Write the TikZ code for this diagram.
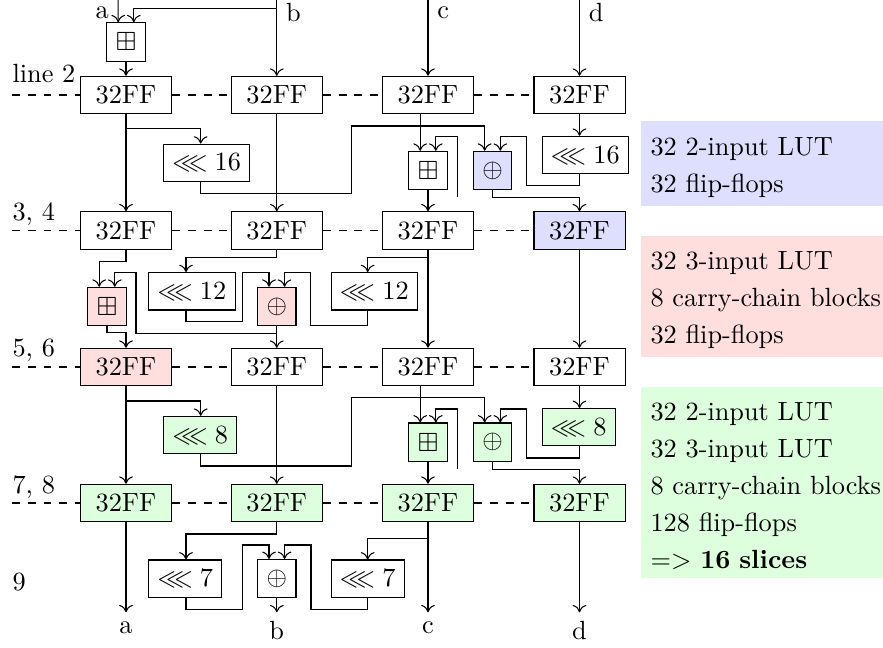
\documentclass[tikz,border=0pt]{standalone}
\usepackage{amssymb}
\usetikzlibrary{calc,arrows.meta}
\definecolor{lutblue}{RGB}{222,222,255}
\definecolor{lutred}{RGB}{255,222,222}
\definecolor{lutgreen}{RGB}{222,255,222}
\begin{document}
\begin{tikzpicture}[x=0.38pt,y=-0.38pt,>={To[length=2.8pt,width=5.2pt]},
  ff/.style={draw, minimum width=34.6pt, minimum height=14.2pt, inner sep=0pt},
  op/.style={draw, minimum size=14.6pt, inner sep=0pt},
  rot/.style={draw, anchor=west, minimum height=14.2pt, inner xsep=3.33pt, inner ysep=0pt},
  lane/.style={dashed},
  stage/.style={anchor=base west, inner sep=0pt},
  legend/.style={anchor=north west, text width=88pt, align=left, inner xsep=3.8pt,
    inner ysep=3.2pt, font=\fontsize{10pt}{14pt}\selectfont}
]
\useasboundingbox (0,0) rectangle (883,648);

% ---------- register rows ----------
\node[ff] (ffA1) at (126,95) {32FF};
\node[ff] (ffB1) at (276.8,95) {32FF};
\node[ff] (ffC1) at (428,95) {32FF};
\node[ff] (ffD1) at (579.5,95) {32FF};

\node[ff] (ffA2) at (126,230.5) {32FF};
\node[ff] (ffB2) at (276.8,230.5) {32FF};
\node[ff] (ffC2) at (428,230.5) {32FF};
\node[ff, fill=lutblue] (ffD2) at (579.5,230.5) {32FF};

\node[ff, fill=lutred] (ffA3) at (126,367) {32FF};
\node[ff] (ffB3) at (276.8,367) {32FF};
\node[ff] (ffC3) at (428,367) {32FF};
\node[ff] (ffD3) at (579.5,367) {32FF};

\node[ff, fill=lutgreen] (ffA4) at (126,503) {32FF};
\node[ff, fill=lutgreen] (ffB4) at (276.8,503) {32FF};
\node[ff, fill=lutgreen] (ffC4) at (428,503) {32FF};
\node[ff, fill=lutgreen] (ffD4) at (579.5,503) {32FF};

% pipeline stage lines
\coordinate (s1) at (12,95);
\coordinate (s2) at (12,230.5);
\coordinate (s3) at (12,367);
\coordinate (s4) at (12,503);
\foreach \r in {1,2,3,4}{
  \draw[lane] (s\r) -- (ffA\r.west) (ffA\r.east) -- (ffB\r.west)
    (ffB\r.east) -- (ffC\r.west) (ffC\r.east) -- (ffD\r.west);
}
\node[stage] (st1) at (12,82.3) {line 2};
\node[stage] (st2) at (12,221) {3, 4};
\node[stage] (st3) at (12,357) {5, 6};
\node[stage] (st4) at (12,493.3) {7, 8};
\node[stage] (st5) at (12,590) {9};

% ---------- adders / xors ----------
\node[op] (opTop) at (126,42) {$\boxplus$};
\node[op] (opC1) at (428,170.5) {$\boxplus$};
\node[op, fill=lutblue] (opD1) at (492.5,170.5) {$\oplus$};
\node[op, fill=lutred] (opA2) at (107,306.5) {$\boxplus$};
\node[op, fill=lutred] (opB2) at (276.8,306.5) {$\oplus$};
\node[op, fill=lutgreen] (opC3) at (428,442.2) {$\boxplus$};
\node[op, fill=lutgreen] (opD3) at (492.5,442.2) {$\oplus$};
\node[op] (opB4) at (276.8,578.7) {$\oplus$};

\foreach \o in {opTop,opC1,opD1,opA2,opB2,opC3,opD3,opB4}{
  \coordinate (\o-i1) at ($(\o.north)+(-7.8,0)$);
  \coordinate (\o-i2) at ($(\o.north)+(7.8,0)$);
}

% ---------- rotations ----------
\node[rot] (shA1) at (163,162.8) {$\lll 16$};
\node[rot] (shD1) at (541.7,155) {$\lll 16$};
\node[rot] (shB2) at (148.3,291.3) {$\lll 12$};
\node[rot] (shC2) at (330.7,291.3) {$\lll 12$};
\node[rot, fill=lutgreen] (shA3) at (163.3,435) {$\lll 8$};
\node[rot, fill=lutgreen] (shD3) at (541.7,427.2) {$\lll 8$};
\node[rot] (shB4) at (148.3,578.7) {$\lll 7$};
\node[rot] (shC4) at (330.7,578.7) {$\lll 7$};

\coordinate (xA) at (200.7,0);
\coordinate (xB) at (186,0);
\coordinate (xC) at (367.7,0);

% ---------- inputs ----------
\coordinate (inA) at (118.2,0);
\coordinate (inB) at (276.8,0);
\coordinate (inC) at (428,0);
\coordinate (inD) at (579.5,0);
\node[anchor=east] (la) at (118.2,12.5) {a};
\node[anchor=west] (lb) at (276.8,12.5) {b};
\node[anchor=west] (lc) at (428,12.5) {c};
\node[anchor=west] (ld) at (579.5,12.5) {d};
\coordinate (jB0) at (276.8,8.3);

\draw[->] (inA) -- (opTop-i1);
\draw[->] (jB0) -| (opTop-i2);
\draw[->] (inB) -- (ffB1.north);
\draw[->] (inC) -- (ffC1.north);
\draw[->] (inD) -- (ffD1.north);
\draw[->] (opTop) -- (ffA1);

% ---------- line 2 -> 3, 4 ----------
\coordinate (jA1) at (126,128.3);
\coordinate (jD1) at (457.9,197.3);
\draw[->] (ffA1) -- (ffA2);
\draw[->] (jA1) -| (shA1.north -| xA);
\draw[->] (shA1.south -| xA) -- (200.7,193.3) -- (351.7,193.3) -- (351.7,126) -| (opD1-i1);
\draw[->] (ffB1) -- (ffB2);
\draw[->] (ffC1.south -| opC1-i1) -- (opC1-i1);
\draw[->] (ffD1.south) -- (shD1.north -| ffD1.south);
\draw[->] (shD1.south -| ffD1.south) -- (579.5,185.7) -- (526.7,185.7) -- (526.7,136.7) -| (opD1-i2);
\draw[->] (opD1.south) -- (opD1.south |- jD1) -| (ffD2.north);
\draw[->] (jD1) -- (457.9,136.7) -| (opC1-i2);
\draw[->] (opC1) -- (ffC2);

% ---------- 3, 4 -> 5, 6 ----------
\coordinate (jB2) at (276.8,333.3);
\coordinate (jC2) at (428,257.7);
\draw[->] (ffA2.south) -- (126,261.7) -| (opA2-i1);
\draw[->] (opA2.south) -- (107,332.7) -| (ffA3.north);
\draw[->] (ffB2.south) -- (276.8,257.3) -| (shB2.north -| xB);
\draw[->] (shB2.south -| xB) -- (186,321.7) -- (242.7,321.7) -- (242.7,272.7) -| (opB2-i1);
\draw[->] (opB2) -- (ffB3);
\draw[->] (jB2) -- (136,333.3) -- (136,272.7) -| (opA2-i2);
\draw[->] (ffC2) -- (ffC3);
\draw[->] (jC2) -| (shC2.north -| xC);
\draw[->] (shC2.south -| xC) -- (367.7,325.7) -- (310.7,325.7) -- (310.7,272.7) -| (opB2-i2);
\draw[->] (ffD2) -- (ffD3);

% ---------- 5, 6 -> 7, 8 ----------
\coordinate (jA3) at (126,401);
\coordinate (jD3) at (457.9,469.3);
\draw[->] (ffA3) -- (ffA4);
\draw[->] (jA3) -| (shA3.north -| xA);
\draw[->] (shA3.south -| xA) -- (200.7,466) -- (351.7,466) -- (351.7,397.7) -| (opD3-i1);
\draw[->] (ffB3) -- (ffB4);
\draw[->] (ffC3.south -| opC3-i1) -- (opC3-i1);
\draw[->] (ffD3.south) -- (shD3.north -| ffD3.south);
\draw[->] (shD3.south -| ffD3.south) -- (579.5,458) -- (526.7,458) -- (526.7,409) -| (opD3-i2);
\draw[->] (opD3.south) -- (opD3.south |- jD3) -| (ffD4.north);
\draw[->] (jD3) -- (457.9,409) -| (opC3-i2);
\draw[->] (opC3) -- (ffC4);

% ---------- 7, 8 -> 9 -> outputs ----------
\coordinate (outA) at (126,612.3);
\coordinate (outB) at (276.8,612.3);
\coordinate (outC) at (428,612.3);
\coordinate (outD) at (579.5,612.3);
\coordinate (jC4) at (428,538.3);
\draw[->] (ffA4.south) -- (outA);
\draw[->] (ffB4.south) -- (276.8,534) -| (shB4.north -| xB);
\draw[->] (shB4.south -| xB) -- (186,609.3) -- (242.7,609.3) -- (242.7,545) -| (opB4-i1);
\draw[->] (opB4.south) -- (outB);
\draw[->] (ffC4.south) -- (outC);
\draw[->] (jC4) -| (shC4.north -| xC);
\draw[->] (shC4.south -| xC) -- (367.7,609.3) -- (311,609.3) -- (311,545) -| (opB4-i2);
\draw[->] (ffD4.south) -- (outD);
\node[anchor=north] (oa) at (outA) {a};
\node[anchor=north] (ob) at (outB) {b};
\node[anchor=north] (oc) at (outC) {c};
\node[anchor=north] (od) at (outD) {d};

% ---------- resource summary ----------
\node[legend, fill=lutblue] (legBlue) at (640,120.7)
  {\strut 32 2-input LUT\\32 flip-flops};
\node[legend, fill=lutred] (legRed) at (640,235)
  {\strut 32 3-input LUT\\8 carry-chain blocks\\32 flip-flops};
\node[legend, fill=lutgreen] (legGreen) at (640,386)
  {\strut 32 2-input LUT\\32 3-input LUT\\8 carry-chain blocks\\128 flip-flops\\=> \textbf{16 slices}};
\end{tikzpicture}
\end{document}
